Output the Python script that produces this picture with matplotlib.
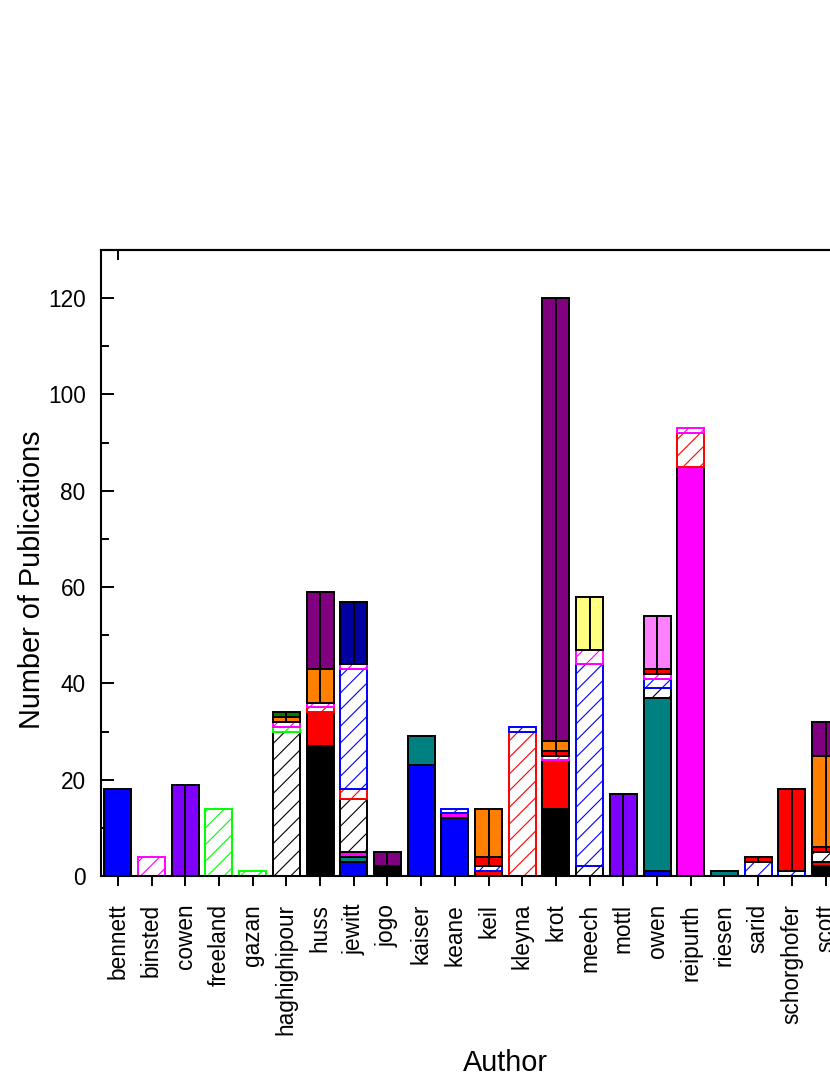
import numpy as np
import matplotlib
matplotlib.use("Agg")
import matplotlib.pyplot as plt
from matplotlib.ticker import MultipleLocator

plt.rcParams['font.family'] = ['Liberation Sans', 'DejaVu Sans']
plt.rcParams['hatch.linewidth'] = 0.8

authors = ['bennett', 'binsted', 'cowen', 'freeland', 'gazan', 'haghighipour',
           'huss', 'jewitt', 'jogo', 'kaiser', 'keane', 'keil', 'kleyna', 'krot',
           'meech', 'mottl', 'owen', 'reipurth', 'riesen', 'sarid', 'schorghofer',
           'scott']

#                 ben bin cow fre gaz hag hus jew jog kai kea kei kle kro mee mot owe rei rie sar sch sco
black_solid    = [0,  0,  0,  0,  0,  0,  27, 0,  2,  0,  0,  0,  0,  14, 0,  0,  0,  0,  0,  0,  0,  2]
red_solid      = [0,  0,  0,  0,  0,  0,  7,  0,  0,  0,  0,  1,  0,  10, 0,  0,  0,  0,  0,  0,  0,  1]
blue_solid     = [18, 0,  0,  0,  0,  0,  0,  3,  0,  23, 12, 0,  0,  0,  0,  0,  1,  0,  0,  0,  0,  0]
teal_solid     = [0,  0,  0,  0,  0,  0,  0,  1,  0,  6,  0,  0,  0,  0,  0,  0,  36, 0,  1,  0,  0,  0]
magenta_solid  = [0,  0,  0,  0,  0,  0,  0,  1,  0,  0,  1,  0,  0,  0,  0,  0,  0,  85, 0,  0,  0,  0]
black_hatch    = [0,  0,  0,  0,  0,  30, 0,  11, 0,  0,  0,  0,  0,  0,  2,  0,  2,  0,  0,  0,  0,  2]
red_hatch      = [0,  0,  0,  0,  0,  0,  1,  2,  0,  0,  0,  0,  30, 0,  0,  0,  0,  7,  0,  0,  0,  0]
blue_hatch     = [0,  0,  0,  0,  0,  0,  0,  25, 0,  0,  1,  1,  1,  0,  42, 0,  2,  0,  0,  3,  1,  0]
green_hatch    = [0,  0,  0,  14, 1,  1,  0,  0,  0,  0,  0,  0,  0,  0,  0,  0,  0,  0,  0,  0,  0,  0]
magenta_hatch  = [0,  4,  0,  0,  0,  1,  1,  1,  0,  0,  0,  0,  0,  1,  3,  0,  1,  1,  0,  0,  0,  0]
red_line       = [0,  0,  0,  0,  0,  0,  0,  0,  0,  0,  0,  2,  0,  1,  0,  0,  1,  0,  0,  1,  17, 1]
orange_line    = [0,  0,  0,  0,  0,  1,  7,  0,  0,  0,  0,  10, 0,  2,  0,  0,  0,  0,  0,  0,  0,  19]
purple_line    = [0,  0,  0,  0,  0,  0,  16, 0,  3,  0,  0,  0,  0,  92, 0,  0,  0,  0,  0,  0,  0,  7]
navy_line      = [0,  0,  0,  0,  0,  0,  0,  13, 0,  0,  0,  0,  0,  0,  0,  0,  0,  0,  0,  0,  0,  0]
violet_line    = [0,  0,  19, 0,  0,  0,  0,  0,  0,  0,  0,  0,  0,  0,  0,  17, 0,  0,  0,  0,  0,  0]
yellow_line    = [0,  0,  0,  0,  0,  0,  0,  0,  0,  0,  0,  0,  0,  0,  11, 0,  0,  0,  0,  0,  0,  0]
pink_line      = [0,  0,  0,  0,  0,  0,  0,  0,  0,  0,  0,  0,  0,  0,  0,  0,  11, 0,  0,  0,  0,  0]
dkgreen_line   = [0,  0,  0,  0,  0,  1,  0,  0,  0,  0,  0,  0,  0,  0,  0,  0,  0,  0,  0,  0,  0,  0]

# (values, colour, style) in stacking order, bottom first
series = [
    (black_solid, '#000000', 'solid'),
    (red_solid, '#FF0000', 'solid'),
    (blue_solid, '#0000FF', 'solid'),
    (teal_solid, '#008080', 'solid'),
    (magenta_solid, '#FF00FF', 'solid'),
    (black_hatch, '#000000', 'hatch'),
    (red_hatch, '#FF0000', 'hatch'),
    (blue_hatch, '#0000FF', 'hatch'),
    (green_hatch, '#00FF00', 'hatch'),
    (magenta_hatch, '#FF00FF', 'hatch'),
    (red_line, '#FF0000', 'line'),
    (orange_line, '#FF8000', 'line'),
    (purple_line, '#800080', 'line'),
    (navy_line, '#0000A0', 'line'),
    (violet_line, '#8000FF', 'line'),
    (yellow_line, '#FFFF80', 'line'),
    (pink_line, '#FF80FF', 'line'),
    (dkgreen_line, '#008000', 'line'),
]

fig = plt.figure(figsize=(8.3, 10.75), dpi=100)
# axis runs on past the right edge of the page, as in the original
ax = fig.add_axes([101/830, 199/1075, 24*33.7/830, 626/1075])

x = np.arange(len(authors))
w = 0.8
bottom = np.zeros(len(authors))
for vals, col, style in series:
    v = np.array(vals, dtype=float)
    m = v > 0
    if style == 'solid':
        ax.bar(x[m], v[m], w, bottom=bottom[m], color=col, edgecolor='black', linewidth=1.4, zorder=2)
    elif style == 'hatch':
        ax.bar(x[m], v[m], w, bottom=bottom[m], color='white', edgecolor=col, hatch='//', linewidth=1.4, zorder=2)
    else:
        # two halves -> dividing line in the middle
        ax.bar(x[m] - w/4, v[m], w/2, bottom=bottom[m], color=col, edgecolor='black', linewidth=1.4, zorder=2)
        ax.bar(x[m] + w/4, v[m], w/2, bottom=bottom[m], color=col, edgecolor='black', linewidth=1.4, zorder=2)
    bottom += v

ax.set_xlim(-0.5, 23.5)
ax.set_ylim(0, 130)
ax.yaxis.set_major_locator(MultipleLocator(20))
ax.yaxis.set_minor_locator(MultipleLocator(10))
ax.set_xticks(x)
ax.set_xticklabels(authors, rotation=90, fontsize=16.3)
ax.tick_params(axis='x', direction='out', length=7, width=1.4, pad=13)
ax.tick_params(axis='y', which='major', direction='in', length=9.5, width=1.4, pad=11, labelsize=16.3)
ax.tick_params(axis='y', which='minor', direction='in', length=5.5, width=1.4)
for s in ax.spines.values():
    s.set_linewidth(1.5)

top = ax.secondary_xaxis('top')
top.set_xticks([0])
top.tick_params(direction='in', length=7, width=1.4, labeltop=False)
top.spines['top'].set_linewidth(1.5)

ax.set_ylabel('Number of Publications', fontsize=20.8)
ax.yaxis.set_label_coords(-55/809, (876-580)/626)
ax.set_xlabel('Author', fontsize=20.8, labelpad=10)

fig.savefig('out.png', dpi=100)
